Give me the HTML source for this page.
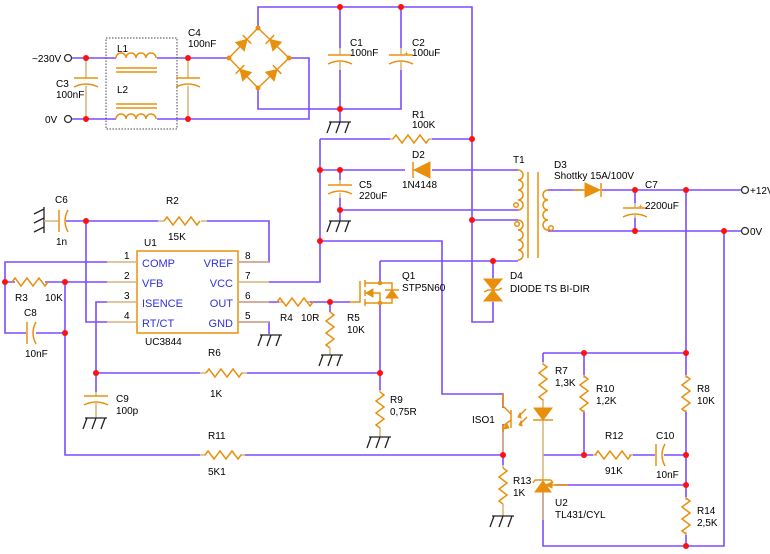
<!DOCTYPE html>
<html><head><meta charset="utf-8"><style>
html,body{margin:0;padding:0;background:#fff;}
svg{display:block;font-family:"Liberation Sans",sans-serif;font-size:10px;}
.w{fill:none;stroke:#7a4cff;stroke-width:1.6}
.c{fill:none;stroke:#e8900e;stroke-width:1.5}
.l{fill:none;stroke:#d9b47a;stroke-width:1.5}
.f{fill:#e8900e;stroke:#e8900e;stroke-width:1}
.g{fill:none;stroke:#222;stroke-width:1.3}
.n{fill:#ff1010}
.b{fill:#3030e0;font-size:11px}
</style></head><body>
<svg width="770" height="554" viewBox="0 0 770 554">
<defs>
<path id="rh" class="c" d="M-18,0 l3,-4 l6,8 l6,-8 l6,8 l6,-8 l6,8 l3,-4"/>
<path id="rv" class="c" d="M0,-18 l4,3 l-8,6 l8,6 l-8,6 l8,6 l-8,6 l4,3"/>
<g id="cv"><path class="c" d="M-12,-3 H12"/><path class="c" d="M-12,6 Q0,0 12,6"/></g>
<g id="ch"><path class="c" d="M-3,-11 V11"/><path class="c" d="M6,-11 Q0,0 6,11"/></g>
<g id="gnd"><path class="g" d="M-9,0 H13 M-7,0 L-11,11 M2,0 L-2,11 M11,0 L7,11"/></g>
</defs>

<!-- wires -->
<path class="w" d="M72,58 H116 M157,58 H229 M72,119 H116 M157,119 H309 V58 H289"/>
<path class="w" d="M258,28 V7 H472 V322 H493 V302"/>
<path class="w" d="M258,88 V109 H401 V70 M340,109 V70 M340,7 V48 M401,7 V48"/>
<path class="w" d="M320,139 H390 M432,139 H472"/>
<path class="w" d="M320,170 H405 M432,170 H518 M340,170 V180 M340,198 V210 H518"/>
<path class="w" d="M320,139 V282 H269"/>
<path class="w" d="M320,241 H442 V394 H503 V408"/>
<path class="w" d="M472,220 H518 M380,261 H518 M493,261 V278"/>
<path class="w" d="M548,190 H583 M602,190 H743 M548,231 H743 M635,190 V203 M635,218 V231"/>
<path class="w" d="M686,190 V375 M686,412 V455 M686,455 V497 M686,535 V546 H543 V492 M724,231 V546 H686"/>
<path class="w" d="M543,353 H686 M543,353 V362 M584,353 V375 M584,412 V455 M543,455 H593 M633,455 H655 M664,455 H686 M555,485 H686"/>
<path class="w" d="M86,221 H158 M207,221 H269 V262 H238"/>
<path class="w" d="M107,262 H5 V333 H26 M36,333 H65 V455 H200 M245,455 H503 V465"/>
<path class="w" d="M5,282 H15 M45,282 H107 M65,282 V333"/>
<path class="w" d="M86,221 V322 H107 M107,302 H96 V373 H200 M247,373 H380 M96,373 V392"/>
<path class="w" d="M238,302 H279 M310,302 H350 M330,302 V312"/>
<path class="w" d="M238,322 H269 V334 M380,283 V261 M380,303 V390"/>
<path class="w" d="M503,424 V455"/>
<path class="w" d="M66,221 H86"/>

<!-- terminals -->
<g fill="#fff" stroke="#333" stroke-width="1.3">
<circle cx="68" cy="58" r="3.5"/><circle cx="68" cy="119" r="3.5"/>
<circle cx="745" cy="190" r="3.5"/><circle cx="745" cy="231" r="3.5"/></g>
<text x="32" y="62">~230V</text><text x="45" y="123">0V</text>
<text x="750" y="194">+12V</text><text x="750" y="235">0V</text>

<!-- C3 -->
<path class="l" d="M86,58 V78 M86,86 V119"/><use href="#cv" x="86" y="81"/>
<text x="56" y="87">C3</text><text x="56" y="98">100nF</text>
<!-- filter box -->
<rect x="106" y="38" width="71" height="91" fill="none" stroke="#444" stroke-dasharray="1.5,1.5"/>
<path class="c" d="M116,58 a5,5 0 0 1 10,0 a5,5 0 0 1 10,0 a5,5 0 0 1 10,0 a5,5 0 0 1 10,0"/>
<path class="c" d="M116,68 H157 M116,72 H157 M116,104 H157 M116,108 H157"/>
<path class="c" d="M116,119 a5,5 0 0 1 10,0 a5,5 0 0 1 10,0 a5,5 0 0 1 10,0 a5,5 0 0 1 10,0"/>
<text x="117" y="52">L1</text><text x="117" y="93">L2</text>
<!-- C4 -->
<path class="l" d="M188,58 V78 M188,86 V119"/><use href="#cv" x="188" y="81"/>
<text x="188" y="36">C4</text><text x="188" y="47">100nF</text>
<!-- bridge -->
<path class="c" d="M229,58 L258,28 L289,58 L258,88 Z"/>
<polygon class="f" points="247,39.4 244.3,50.8 235.7,42.4"/><path class="c" d="M251.3,43.6 L242.7,35.2"/>
<polygon class="f" points="240,69.4 251.3,72.4 242.7,80.8"/><path class="c" d="M244.3,65.2 L235.7,73.6"/>
<polygon class="f" points="277.1,69.5 274.1,80.8 265.7,72.2"/><path class="c" d="M281.3,73.8 L272.9,65.2"/>
<polygon class="f" points="269.9,39.5 281.3,42.2 272.9,50.8"/><path class="c" d="M274.1,35.2 L265.7,43.8"/>
<!-- C1 C2 -->
<path class="l" d="M340,48 V55 M340,62 V70 M401,48 V55 M401,62 V70"/>
<use href="#cv" x="340" y="58"/><use href="#cv" x="401" y="58"/>
<text x="350" y="46">C1</text><text x="350" y="56">100nF</text>
<text x="412" y="46">C2</text><text x="412" y="56">100uF</text><text x="404" y="56" fill="#e8900e" font-size="8">+</text>
<path class="w" d="M340,109 V122"/><use href="#gnd" x="338" y="122"/>
<!-- R1 D2 -->
<path class="l" d="M390,139 H393 M429,139 H432"/><use href="#rh" x="411" y="139"/>
<text x="412" y="118">R1</text><text x="412" y="128">100K</text>
<polygon class="f" points="430,162 430,178 414,170"/><path class="c" d="M413,162 V178"/>
<text x="412" y="158">D2</text><text x="402" y="188">1N4148</text>
<!-- C5 -->
<path class="l" d="M340,180 V185 M340,193 V198"/><use href="#cv" x="340" y="188"/>
<text x="359" y="188">C5</text><text x="359" y="199">220uF</text>
<path class="w" d="M340,210 V221"/><use href="#gnd" x="338" y="221"/>
<!-- T1 -->
<text x="513" y="163">T1</text>
<path class="c" d="M518,170 a5,5 0 0 1 0,10 a5,5 0 0 1 0,10 a5,5 0 0 1 0,10 a5,5 0 0 1 0,10 M518,220 a5,5 0 0 1 0,10 a5,5 0 0 1 0,10 a5,5 0 0 1 0,10 a5,5 0 0 1 0,10"/>
<path class="c" d="M528,172 V258 M538,172 V258"/>
<path class="c" d="M548,190 a5,5 0 0 0 0,10 a5,5 0 0 0 0,10 a5,5 0 0 0 0,10 a5,5 0 0 0 0,10 V231"/>
<circle class="c" cx="516" cy="205" r="2.3"/><circle class="c" cx="517" cy="224" r="2.3"/><circle class="c" cx="551" cy="228" r="2.3"/>
<!-- D3 -->
<polygon class="f" points="585,183 585,197 600,190"/><path class="c" d="M601,183 V197 M573,190 H585"/>
<text x="554" y="168">D3</text><text x="554" y="179">Shottky 15A/100V</text>
<!-- C7 -->
<path class="l" d="M635,203 V208 M635,215 V218"/><use href="#cv" x="635" y="211"/>
<text x="645" y="188">C7</text><text x="645" y="209">2200uF</text><text x="638" y="209" fill="#e8900e" font-size="8">+</text>
<!-- D4 -->
<path class="l" d="M493,278 V302"/>
<polygon class="f" points="484,279 502,279 493,290"/><polygon class="f" points="484,301 502,301 493,290"/>
<path class="c" d="M484,292 L488,290 H498 L502,288"/>
<text x="510" y="279">D4</text><text x="510" y="292">DIODE TS BI-DIR</text>

<!-- C6 -->
<path class="g" d="M44,207 V233 M44,209 L34,214 M44,218 L34,223 M44,227 L34,232"/>
<path class="l" d="M44,221 H59"/>
<use href="#ch" x="62" y="221"/>
<text x="55" y="203">C6</text><text x="56" y="245">1n</text>
<!-- R2 -->
<path class="l" d="M158,221 H164 M201,221 H207"/><use href="#rh" x="182" y="221"/>
<text x="166" y="204">R2</text><text x="168" y="240">15K</text>
<!-- U1 -->
<rect x="137" y="251" width="101" height="82" fill="none" stroke="#e8900e" stroke-width="1.5"/>
<path class="l" d="M107,262 H137 M107,282 H137 M107,302 H137 M107,322 H137 M238,262 H269 M238,282 H269 M238,302 H269 M238,322 H269"/>
<text x="144" y="246">U1</text><text x="145" y="345">UC3844</text>
<text x="124" y="259">1</text><text x="124" y="279">2</text><text x="124" y="299">3</text><text x="124" y="319">4</text>
<text x="245" y="259">8</text><text x="245" y="279">7</text><text x="245" y="299">6</text><text x="245" y="319">5</text>
<text class="b" x="142" y="267">COMP</text><text class="b" x="142" y="287">VFB</text><text class="b" x="142" y="307">ISENCE</text><text class="b" x="142" y="327">RT/CT</text>
<text class="b" x="233" y="267" text-anchor="end">VREF</text><text class="b" x="233" y="287" text-anchor="end">VCC</text><text class="b" x="233" y="307" text-anchor="end">OUT</text><text class="b" x="233" y="327" text-anchor="end">GND</text>
<!-- R3 C8 -->
<use href="#rh" x="30" y="282"/>
<text x="15" y="301">R3</text><text x="45" y="301">10K</text>
<use href="#ch" x="30" y="333"/>
<text x="24" y="316">C8</text><text x="25" y="357">10nF</text>
<!-- GND pin5 -->
<use href="#gnd" x="269" y="335"/>
<!-- R4 R5 -->
<path class="l" d="M279,302 H283 M307,302 H310"/><use href="#rh" x="295" y="302"/>
<text x="280" y="321">R4</text><text x="301" y="321">10R</text>
<use href="#rv" x="330" y="330"/><path class="l" d="M330,348 V355"/><use href="#gnd" x="330" y="355"/>
<text x="347" y="321">R5</text><text x="347" y="333">10K</text>
<!-- Q1 -->
<path class="c" d="M350,302 H360 V281 M365,280 V287 M365,290 V296 M365,299 V306 M365,283 H380 M365,303 H380 M365,293 H380 V303 M380,283 H392 V303 H380"/>
<polygon class="f" points="366,293 373,289 373,297"/>
<polygon class="f" points="386,298 398,298 392,290"/><path class="c" d="M385,290 H399"/>
<circle class="f" cx="380" cy="283" r="1.8"/><circle class="f" cx="380" cy="303" r="1.8"/>
<text x="402" y="279">Q1</text><text x="402" y="291">STP5N60</text>
<!-- R6 C9 -->
<path class="l" d="M200,373 H206 M241,373 H247"/><use href="#rh" x="224" y="373"/>
<text x="208" y="356">R6</text><text x="210" y="397">1K</text>
<path class="l" d="M96,392 V396 M96,403 V418"/><use href="#cv" x="96" y="399"/><use href="#gnd" x="94" y="418"/>
<text x="116" y="402">C9</text><text x="116" y="414">100p</text>
<!-- R9 -->
<path class="l" d="M380,390 V392 M380,428 V437"/><use href="#rv" x="380" y="410"/><use href="#gnd" x="378" y="437"/>
<text x="390" y="403">R9</text><text x="390" y="415">0,75R</text>
<!-- R11 -->
<path class="l" d="M200,455 H206 M240,455 H245"/><use href="#rh" x="223" y="455"/>
<text x="208" y="439">R11</text><text x="208" y="475">5K1</text>
<!-- ISO1 -->
<path class="c" d="M503,394 V406 L511,414 M511,410 V428 M511,420 L503,426 V432"/>
<polygon class="f" points="503,429 507,424 509,428"/>
<path class="c" d="M526,409 L519,416 M527,417 L520,424"/>
<polygon class="f" points="518,417 520,413 521,418"/><polygon class="f" points="519,425 521,421 522,426"/>
<path class="l" d="M503,432 V455"/>
<text x="472" y="423">ISO1</text>
<!-- R13 -->
<path class="l" d="M503,465 V468 M503,504 V516"/><use href="#rv" x="503" y="486"/><use href="#gnd" x="501" y="516"/>
<text x="513" y="484">R13</text><text x="513" y="496">1K</text>
<!-- R7 LED -->
<path class="l" d="M543,362 V365 M543,399 V408 M543,420 V480 M543,492 V520"/>
<use href="#rv" x="543" y="382"/>
<polygon class="f" points="534,408 552,408 543,420"/><path class="c" d="M533,420 H553"/>
<text x="555" y="374">R7</text><text x="555" y="386">1,3K</text>
<!-- TL431 -->
<polygon class="f" points="535,492 551,492 543,481"/><path class="c" d="M535,480 H551 M535,480 l-2,3 M551,480 l2,3 M546,485 H568"/>
<polygon class="f" points="546,485 552,482 552,488"/>
<text x="555" y="506">U2</text><text x="555" y="518">TL431/CYL</text>
<!-- R10 -->
<path class="l" d="M584,375 V378 M584,410 V412"/><use href="#rv" x="584" y="394"/>
<text x="596" y="392">R10</text><text x="596" y="404">1,2K</text>
<!-- R8 -->
<path class="l" d="M686,375 V378 M686,410 V412"/><use href="#rv" x="686" y="394"/>
<text x="697" y="392">R8</text><text x="697" y="404">10K</text>
<!-- R12 C10 -->
<path class="l" d="M593,455 H597 M629,455 H633"/><use href="#rh" x="613" y="455"/>
<text x="605" y="439">R12</text><text x="605" y="474">91K</text>
<use href="#ch" x="659" y="455"/>
<text x="656" y="439">C10</text><text x="656" y="478">10nF</text>
<!-- R14 -->
<path class="l" d="M686,497 V500 M686,532 V535"/><use href="#rv" x="686" y="516"/>
<text x="697" y="514">R14</text><text x="697" y="526">2,5K</text>

<!-- nodes -->
<g class="n">
<circle cx="86" cy="58" r="3"/><circle cx="86" cy="119" r="3"/><circle cx="188" cy="58" r="3"/><circle cx="188" cy="119" r="3"/>
<circle cx="340" cy="7" r="3"/><circle cx="401" cy="7" r="3"/><circle cx="340" cy="109" r="3"/>
<circle cx="472" cy="139" r="3"/><circle cx="320" cy="170" r="3"/><circle cx="340" cy="170" r="3"/><circle cx="340" cy="210" r="3"/>
<circle cx="472" cy="220" r="3"/><circle cx="320" cy="241" r="3"/><circle cx="493" cy="261" r="3"/>
<circle cx="635" cy="190" r="3"/><circle cx="686" cy="190" r="3"/><circle cx="635" cy="231" r="3"/><circle cx="724" cy="231" r="3"/>
<circle cx="86" cy="221" r="3"/><circle cx="5" cy="282" r="3"/><circle cx="65" cy="282" r="3"/><circle cx="65" cy="333" r="3"/>
<circle cx="330" cy="302" r="3"/><circle cx="96" cy="373" r="3"/><circle cx="380" cy="373" r="3"/>
<circle cx="503" cy="455" r="3"/><circle cx="584" cy="353" r="3"/><circle cx="686" cy="353" r="3"/>
<circle cx="584" cy="455" r="3"/><circle cx="686" cy="455" r="3"/><circle cx="686" cy="485" r="3"/><circle cx="686" cy="546" r="3"/>
<circle cx="229" cy="58" r="2.5" fill="#e8900e"/><circle cx="289" cy="58" r="2.5" fill="#e8900e"/><circle cx="258" cy="28" r="2.5" fill="#e8900e"/><circle cx="258" cy="88" r="2.5" fill="#e8900e"/>
</g>
</svg>
</body></html>
